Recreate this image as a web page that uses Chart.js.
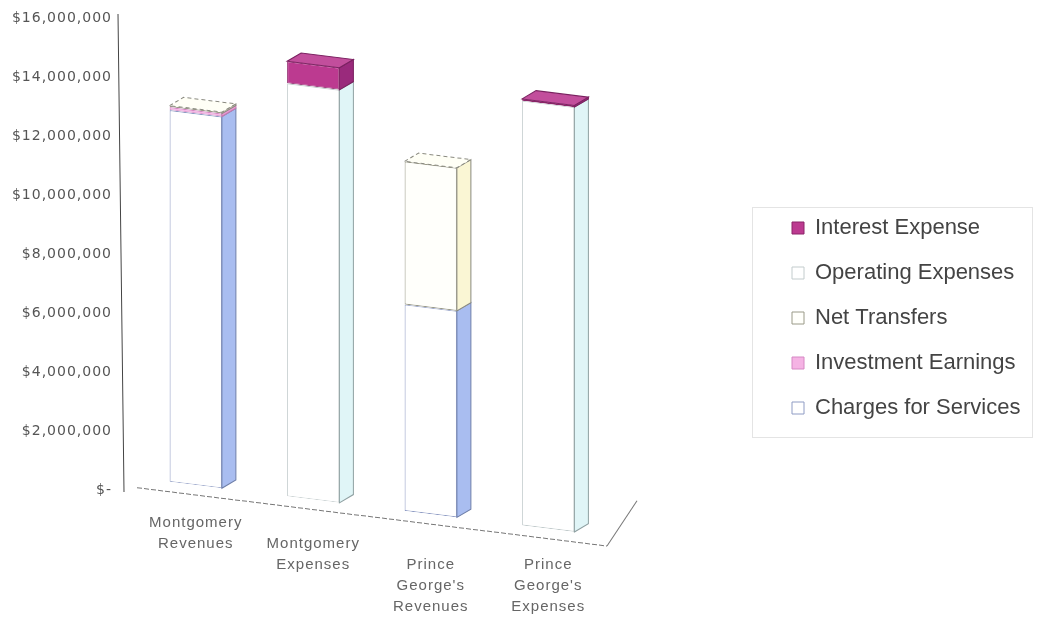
<!DOCTYPE html>
<html>
<head>
<meta charset="utf-8">
<script src="https://cdn.jsdelivr.net/npm/chart.js@4"></script>
<style>
  html, body { margin:0; padding:0; background:#fff; }
  canvas { display:block; }
</style>
</head>
<body>
<canvas id="chart" width="1045" height="626"></canvas>
<script>
// values (dollars)
const categories = [
  ['Montgomery','Revenues'],
  ['Montgomery','Expenses'],
  ['Prince',"George's",'Revenues'],
  ['Prince',"George's",'Expenses']
];
const chargesForServices = [12600000, 0, 7000000, 0];
const investmentEarnings = [100000, 0, 0, 0];
const netTransfers       = [50000, 0, 4850000, 0];
const operatingExpenses  = [0, 14000000, 0, 14400000];
const interestExpense    = [0, 750000, 0, 60000];
const yMax = 16000000, yStep = 2000000;

// the labels sit lower and lower along the tilted floor
const labelDrop = [0, 1, 2, 2];

// fake 3D: depth of the boxes and vertical shear of the floor
const DEPTH_X = 14, DEPTH_Y = 10;
const SKEW = 0.124, SKEW_AT = 236;
const Y_AXIS_W = 137, X_AXIS_H = 136;
const LEGEND_LEFT = 769, LEGEND_TOP = 100, LEGEND_BOTTOM = 536;

function money(v){
  return v === 0 ? '$-' : '$' + v.toLocaleString('en-US');
}

// tick text on the scan is spaced out a little
function spaceLabels(scale){
  if(scale._spaced) return;
  const draw = scale.drawLabels;
  scale.drawLabels = function(area){
    this.ctx.letterSpacing = '1px';
    draw.call(this, area);
    this.ctx.letterSpacing = '0px';
  };
  scale._spaced = true;
}

const depth3d = {
  id: 'depth3d',
  afterLayout(chart){
    const lg = chart.legend;
    lg.left = LEGEND_LEFT; lg.right = 1040;
    lg.top = LEGEND_TOP; lg.bottom = LEGEND_BOTTOM;
  },
  beforeDraw(chart){
    const {ctx} = chart;
    spaceLabels(chart.scales.x);
    spaceLabels(chart.scales.y);
    // legend frame, very faint on the scan
    ctx.save();
    ctx.strokeStyle = '#e4e4e4';
    ctx.lineWidth = 1;
    ctx.strokeRect(752.5, 207.5, 280, 230);
    ctx.restore();
  },
  beforeDatasetsDraw(chart){
    const {ctx, chartArea: a} = chart;
    ctx.save();
    ctx.transform(1, SKEW, 0, 1, 0, -SKEW * SKEW_AT);
    // floor edges
    ctx.strokeStyle = '#777';
    ctx.lineWidth = 1;
    ctx.setLineDash([5, 2]);
    ctx.beginPath();
    ctx.moveTo(a.left, a.bottom + 10);
    ctx.lineTo(a.right, a.bottom + 10);
    ctx.stroke();
    ctx.setLineDash([]);
    ctx.beginPath();
    ctx.moveTo(a.right, a.bottom + 10);
    ctx.lineTo(a.right + 30, a.bottom - 39);
    ctx.stroke();
  },
  afterDatasetsDraw(chart){
    const {ctx} = chart;
    const n = chart.data.labels.length;
    for(let i=0;i<n;i++){
      let top = null;
      chart.data.datasets.forEach((ds, d) => {
        if(!ds.data[i]) return;
        const bar = chart.getDatasetMeta(d).data[i];
        const {x, y, base, width} = bar.getProps(['x','y','base','width'], true);
        const r = x + width/2;
        ctx.fillStyle = ds.sideColor;
        ctx.strokeStyle = ds.edgeColor;
        ctx.lineWidth = 1;
        ctx.beginPath();
        ctx.moveTo(r, base);
        ctx.lineTo(r + DEPTH_X, base - DEPTH_Y);
        ctx.lineTo(r + DEPTH_X, y - DEPTH_Y);
        ctx.lineTo(r, y);
        ctx.closePath();
        ctx.fill(); ctx.stroke();
        top = {ds, x, y, width};
      });
      if(top){
        const l = top.x - top.width/2, r = top.x + top.width/2;
        ctx.fillStyle = top.ds.topColor;
        ctx.strokeStyle = top.ds.edgeColor;
        ctx.setLineDash(top.ds.dashedTop ? [4, 3] : []);
        ctx.beginPath();
        ctx.moveTo(l, top.y);
        ctx.lineTo(l + DEPTH_X, top.y - DEPTH_Y);
        ctx.lineTo(r + DEPTH_X, top.y - DEPTH_Y);
        ctx.lineTo(r, top.y);
        ctx.closePath();
        ctx.fill(); ctx.stroke();
        ctx.setLineDash([]);
      }
    }
    ctx.restore();
  },
  afterDraw(chart){
    const {ctx, chartArea: a} = chart;
    // value axis line, slightly leaning like on the scan
    ctx.save();
    ctx.strokeStyle = '#444';
    ctx.lineWidth = 1;
    ctx.beginPath();
    ctx.moveTo(a.left - 19, a.top - 4);
    ctx.lineTo(a.left - 13, a.bottom + 2);
    ctx.stroke();
    ctx.restore();
  }
};

const datasets = [
  { label:'Charges for Services', data: chargesForServices,
    backgroundColor:'#ffffff', borderColor:'#8f9cc4', sideColor:'#a9bdf0', topColor:'#f4f7ff', edgeColor:'#6f7fa8' },
  { label:'Investment Earnings', data: investmentEarnings,
    backgroundColor:'#f5b3e4', borderColor:'#d688c4', sideColor:'#e99ad2', topColor:'#f8c8ec', edgeColor:'#c47ab0' },
  { label:'Net Transfers', data: netTransfers,
    backgroundColor:'#fffffb', borderColor:'#9a9a88', sideColor:'#faf6d4', topColor:'#fffff6', edgeColor:'#8a8a80', dashedTop:true },
  { label:'Operating Expenses', data: operatingExpenses,
    backgroundColor:'#ffffff', borderColor:'#c3cccd', sideColor:'#e0f5f7', topColor:'#f6fdfd', edgeColor:'#8fa0a2' },
  { label:'Interest Expense', data: interestExpense,
    backgroundColor:'#bc3a90', borderColor:'#8c2569', sideColor:'#9a2a7c', topColor:'#c24e9c', edgeColor:'#7a2160' }
];

new Chart(document.getElementById('chart'), {
  type: 'bar',
  data: {
    labels: categories,
    datasets: datasets.map(d => Object.assign({
      borderWidth: 1,
      borderSkipped: false,
      barPercentage: 0.445,
      categoryPercentage: 1
    }, d))
  },
  options: {
    responsive: false,
    animation: false,
    layout: { padding: { left: 0, right: 238, top: 18, bottom: 0 } },
    plugins: {
      tooltip: { enabled: false },
      legend: {
        position: 'right',
        reverse: true,
        maxWidth: 200,
        labels: {
          boxWidth: 12, boxHeight: 12, padding: 23,
          color: '#444',
          font: { family: '"Liberation Sans", Arial, sans-serif', size: 22 }
        }
      }
    },
    scales: {
      x: {
        stacked: true,
        grid: { display: false, drawTicks: false },
        border: { display: false },
        afterFit: s => { s.height = X_AXIS_H; },
        ticks: {
          padding: 22,
          color: '#666',
          maxRotation: 0,
          font: { family: '"Liberation Sans", Arial, sans-serif', size: 15, lineHeight: 1.4 },
          callback: (v, i) => Array(labelDrop[i]).fill('').concat(categories[i])
        }
      },
      y: {
        stacked: true,
        min: 0, max: yMax,
        grid: { display: false, drawTicks: false },
        border: { display: false },
        afterFit: s => { s.width = Y_AXIS_W; s.paddingTop = 8; s.paddingBottom = 8; },
        ticks: {
          stepSize: yStep,
          padding: 25,
          color: '#555',
          font: { family: '"DejaVu Sans", sans-serif', size: 14 },
          callback: v => money(v)
        }
      }
    }
  },
  plugins: [depth3d]
});
</script>
</body>
</html>
